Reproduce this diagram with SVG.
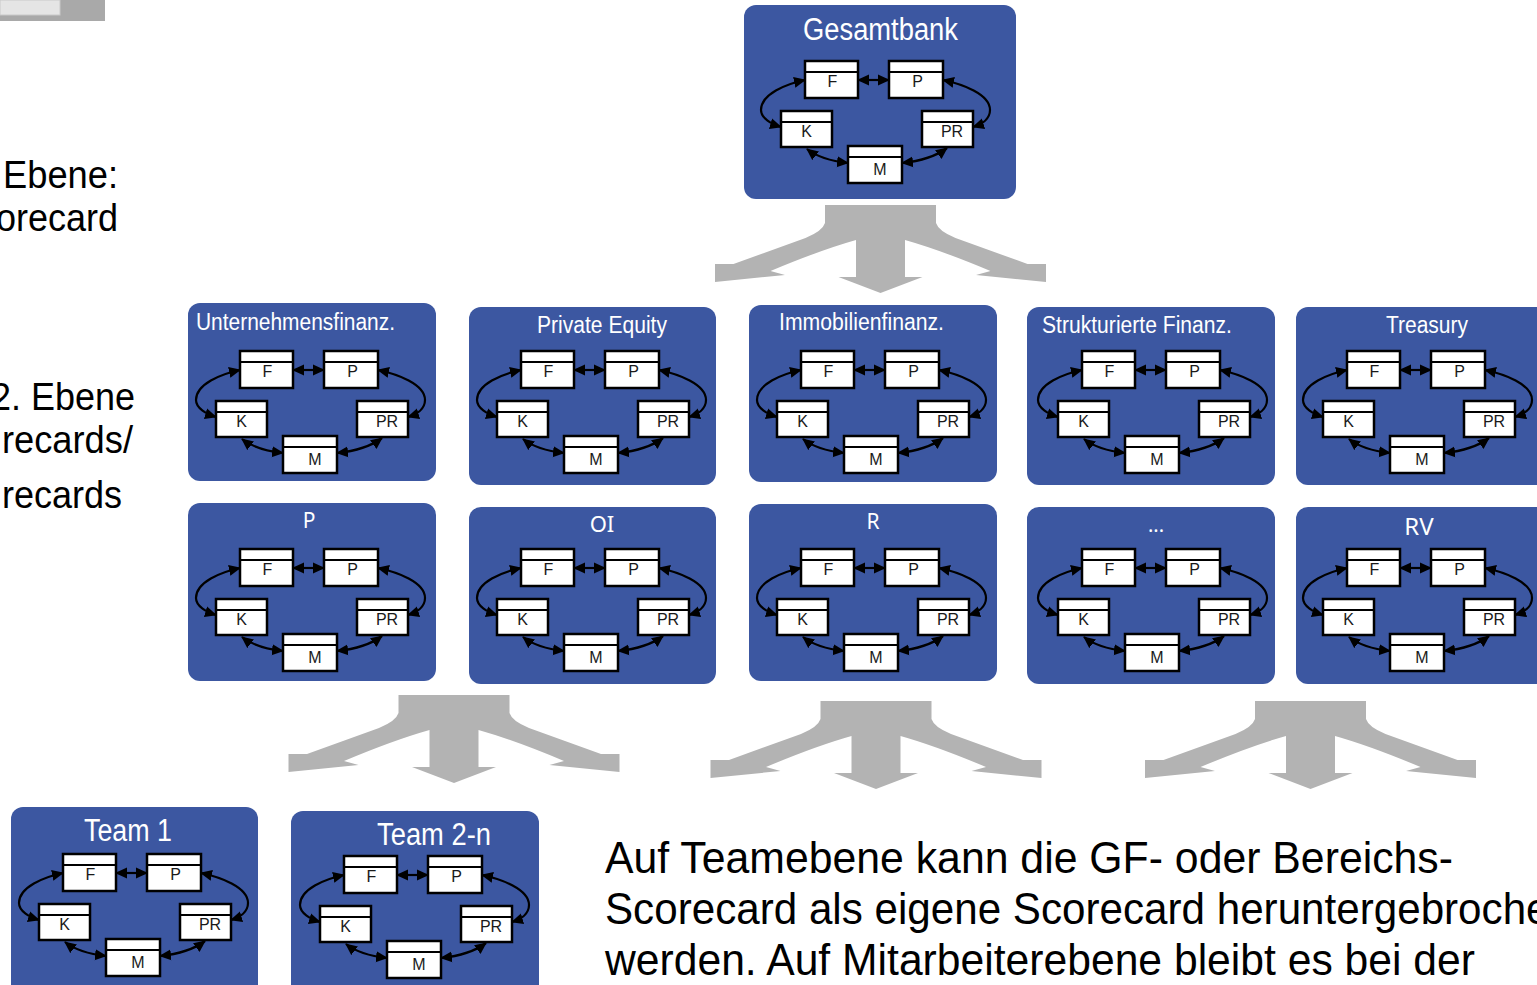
<svg xmlns="http://www.w3.org/2000/svg" xmlns:xlink="http://www.w3.org/1999/xlink" width="1537" height="985" viewBox="0 0 1537 985">
<style>
.node{fill:#3c57a1}
.ttl{fill:#fff;font-family:"Liberation Sans Narrow","Liberation Sans",Arial,sans-serif}
.ttl2{fill:#fff;font-family:"Noto Sans","Open Sans",sans-serif}
.bx{fill:#fff;stroke:#000;stroke-width:2.5}
.hd{stroke:#000;stroke-width:2}
.lb{font-family:"Liberation Sans Narrow","Liberation Sans",Arial,sans-serif;font-size:16px;fill:#1a1a1a;text-anchor:middle}
.ln{fill:none;stroke:#000;stroke-width:2.2;marker-start:url(#ah);marker-end:url(#ah)}
.big{fill:#b3b3b3}
.side{font-family:"Liberation Sans",Arial,sans-serif;font-size:38px;fill:#000}
.para{font-family:"Liberation Sans",Arial,sans-serif;font-size:45px;fill:#000}
</style>
<defs>
<marker id="ah" viewBox="0 0 12 12" refX="11" refY="6" markerWidth="12" markerHeight="12" markerUnits="userSpaceOnUse" orient="auto-start-reverse">
<path d="M0,0.5 L12,6 L0,11.5 Z" fill="#000"/>
</marker>
<g id="sc">
<path class="ln" d="M77,19 L108,19"/>
<path class="ln" d="M24,19 C5,23 -20,33 -20,49 C-20,57 -10,63 0,66"/>
<path class="ln" d="M162,19 C181,23 209,33 209,49 C209,57 202,63 192,66"/>
<path class="ln" d="M26,88 Q40,99 67,102"/>
<path class="ln" d="M121,102 Q150,99 166,87"/>
<rect class="bx" x="24" y="0" width="53" height="37"/><line class="hd" x1="24" y1="11" x2="77" y2="11"/>
<rect class="bx" x="108" y="0" width="54" height="37"/><line class="hd" x1="108" y1="11" x2="162" y2="11"/>
<rect class="bx" x="0" y="50" width="51" height="36"/><line class="hd" x1="0" y1="61" x2="51" y2="61"/>
<rect class="bx" x="141" y="50" width="51" height="36"/><line class="hd" x1="141" y1="61" x2="192" y2="61"/>
<rect class="bx" x="67" y="85" width="54" height="37"/><line class="hd" x1="67" y1="96" x2="121" y2="96"/>
<text class="lb" x="51.5" y="26">F</text>
<text class="lb" x="136.5" y="26">P</text>
<text class="lb" x="25.5" y="76">K</text>
<text class="lb" x="171" y="76">PR</text>
<text class="lb" x="99" y="114">M</text>
</g>
<path id="bigarrow" d="M-55.5,0 L55.5,0 L55.5,18 Q58,26 75,33 L147,59 L165.5,59 L165.5,77 L95.5,70 L110,66 Q60,45 24.5,35 L24.5,72 L42,72 L0,88 L-42,72 L-24.5,72 L-24.5,35 Q-60,45 -110,66 L-95.5,70 L-165.5,77 L-165.5,59 L-147,59 L-75,33 Q-58,26 -55.5,18 Z"/>
</defs>

<g id="corner">
<rect x="0" y="0" width="105" height="21" fill="#a9a9a9"/>
<rect x="0" y="0" width="60" height="15" fill="#e5e5e5" stroke="#c9c9c9" stroke-width="1"/>
</g>

<g id="side-labels">
<text class="side" x="3" y="188" textLength="115" lengthAdjust="spacingAndGlyphs">Ebene:</text>
<text class="side" x="-4" y="231" textLength="122" lengthAdjust="spacingAndGlyphs">orecard</text>
<text class="side" x="-9" y="410" textLength="144" lengthAdjust="spacingAndGlyphs">2. Ebene</text>
<text class="side" x="2" y="453" textLength="131" lengthAdjust="spacingAndGlyphs">recards/</text>
<text class="side" x="2" y="508" textLength="120" lengthAdjust="spacingAndGlyphs">recards</text>
</g>

<g id="connectors">
<use href="#bigarrow" class="big" transform="translate(880.5,205)"/>
<use href="#bigarrow" class="big" transform="translate(454,695)"/>
<use href="#bigarrow" class="big" transform="translate(876,701)"/>
<use href="#bigarrow" class="big" transform="translate(1310.5,701)"/>
</g>

<g id="gesamtbank">
<rect class="node" x="744" y="5" width="272" height="194" rx="12"/>
<text class="ttl" x="803" y="40" font-size="31" textLength="155" lengthAdjust="spacingAndGlyphs">Gesamtbank</text>
<use href="#sc" transform="translate(781,61)"/>
</g>

<g id="unternehmensfinanz">
<rect class="node" x="188" y="303" width="248" height="178" rx="12"/>
<text class="ttl" x="196" y="330" font-size="23" textLength="199" lengthAdjust="spacingAndGlyphs">Unternehmensfinanz.</text>
<use href="#sc" transform="translate(216,351)"/>
</g>

<g id="private-equity">
<rect class="node" x="469" y="307" width="247" height="178" rx="12"/>
<text class="ttl" x="537" y="333" font-size="23" textLength="130" lengthAdjust="spacingAndGlyphs">Private Equity</text>
<use href="#sc" transform="translate(497,351)"/>
</g>

<g id="immobilienfinanz">
<rect class="node" x="749" y="305" width="248" height="177" rx="12"/>
<text class="ttl" x="779" y="330" font-size="23" textLength="165" lengthAdjust="spacingAndGlyphs">Immobilienfinanz.</text>
<use href="#sc" transform="translate(777,351)"/>
</g>

<g id="strukturierte-finanz">
<rect class="node" x="1027" y="307" width="248" height="178" rx="12"/>
<text class="ttl" x="1042" y="333" font-size="23" textLength="190" lengthAdjust="spacingAndGlyphs">Strukturierte Finanz.</text>
<use href="#sc" transform="translate(1058,351)"/>
</g>

<g id="treasury">
<rect class="node" x="1296" y="307" width="260" height="178" rx="12"/>
<text class="ttl" x="1386" y="333" font-size="23" textLength="82" lengthAdjust="spacingAndGlyphs">Treasury</text>
<use href="#sc" transform="translate(1323,351)"/>
</g>

<g id="p">
<rect class="node" x="188" y="503" width="248" height="178" rx="12"/>
<text class="ttl2" x="309" y="528" font-size="21" text-anchor="middle">P</text>
<use href="#sc" transform="translate(216,549)"/>
</g>

<g id="oi">
<rect class="node" x="469" y="507" width="247" height="177" rx="12"/>
<text class="ttl2" x="602" y="532" font-size="22" text-anchor="middle">OI</text>
<use href="#sc" transform="translate(497,549)"/>
</g>

<g id="r">
<rect class="node" x="749" y="504" width="248" height="177" rx="12"/>
<text class="ttl2" x="873" y="529" font-size="21" text-anchor="middle">R</text>
<use href="#sc" transform="translate(777,549)"/>
</g>

<g id="dots">
<rect class="node" x="1027" y="507" width="248" height="177" rx="12"/>
<text class="ttl2" x="1156" y="532" font-size="20" text-anchor="middle">...</text>
<use href="#sc" transform="translate(1058,549)"/>
</g>

<g id="rv">
<rect class="node" x="1296" y="507" width="260" height="177" rx="12"/>
<text class="ttl2" x="1419" y="535" font-size="24" text-anchor="middle">RV</text>
<use href="#sc" transform="translate(1323,549)"/>
</g>

<g id="team1">
<rect class="node" x="11" y="807" width="247" height="195" rx="12"/>
<text class="ttl" x="84" y="841" font-size="31" textLength="88" lengthAdjust="spacingAndGlyphs">Team 1</text>
<use href="#sc" transform="translate(39,854)"/>
</g>

<g id="team2n">
<rect class="node" x="291" y="811" width="248" height="195" rx="12"/>
<text class="ttl" x="377" y="845" font-size="31" textLength="114" lengthAdjust="spacingAndGlyphs">Team 2-n</text>
<use href="#sc" transform="translate(320,856)"/>
</g>

<g id="paragraph">
<text class="para" x="605" y="873" textLength="848" lengthAdjust="spacingAndGlyphs">Auf Teamebene kann die GF- oder Bereichs-</text>
<text class="para" x="605" y="924" textLength="968" lengthAdjust="spacingAndGlyphs">Scorecard als eigene Scorecard heruntergebrochen</text>
<text class="para" x="605" y="975" textLength="870" lengthAdjust="spacingAndGlyphs">werden. Auf Mitarbeiterebene bleibt es bei der</text>
</g>
</svg>
